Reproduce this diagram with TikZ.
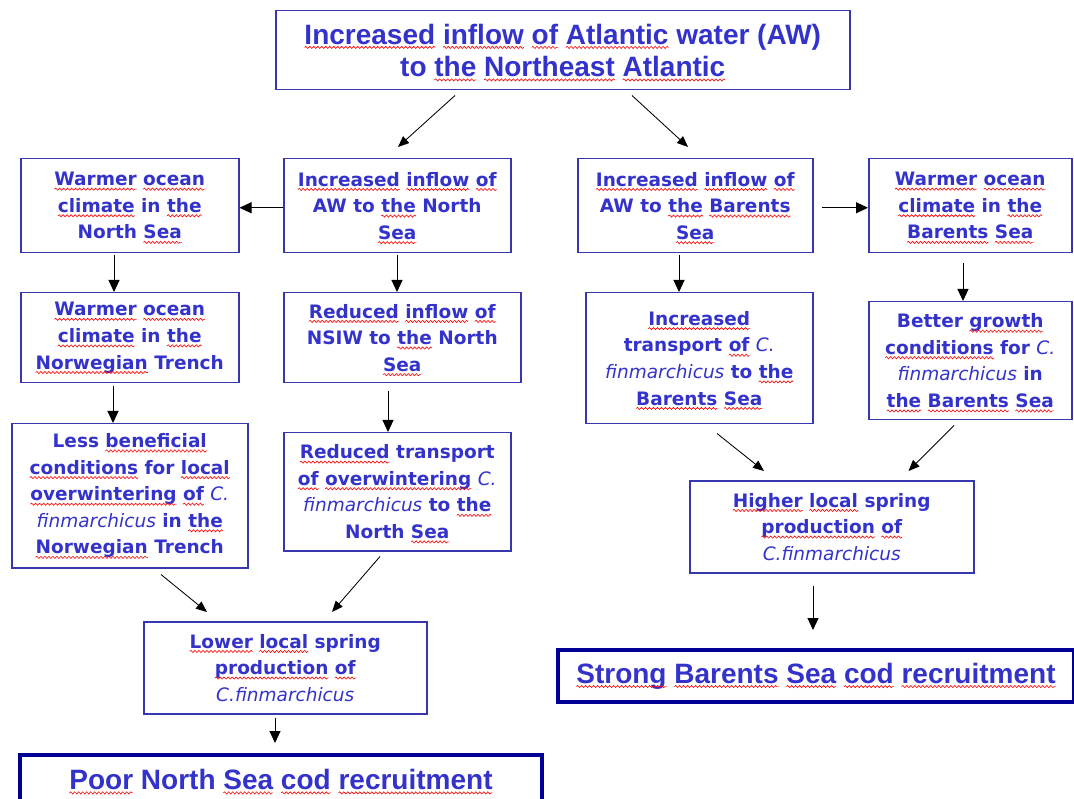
\documentclass[tikz,border=0pt]{standalone}
\usepackage{fontspec}
\usepackage{xcolor}
\usetikzlibrary{arrows.meta,calc,decorations.pathmorphing}
\setmainfont{DejaVu Sans}
\newfontfamily\ttlfont{Liberation Sans}

\definecolor{txtblue}{RGB}{51,51,204}
\definecolor{edgeblue}{RGB}{55,55,175}
\definecolor{navy}{RGB}{0,0,150}

\tikzset{
  wvword/.style={draw=none, fill=none, inner sep=0pt, outer sep=0pt,
    minimum width=0pt, minimum height=0pt, anchor=base, align=left},
  wvline/.style={draw=red, line width=0.6pt, overlay, decorate,
    decoration={snake, amplitude=1.1pt, segment length=4pt}}
}
% word with a red wavy underline
\newcommand\wv[1]{\tikz[baseline=(w.base)]{\node[wvword] (w) {#1};
  \draw[wvline] ([yshift=-3.4pt]w.base west) -- ([yshift=-3.4pt]w.base east);}}
% species name in italic, normal weight
\newcommand\fm[1]{{\mdseries\itshape #1}}

\begin{document}
\begin{tikzpicture}[x=1pt,y=-1pt,
  box/.style={draw=edgeblue, line width=1.5pt, text=txtblue, inner sep=0pt,
    align=center, anchor=north west,
    font=\fontsize{18.5}{26.6}\selectfont\bfseries},
  headbox/.style={box, font=\ttlfont\fontsize{28}{32.5}\selectfont\bfseries},
  endbox/.style={headbox, draw=navy, line width=4pt},
  arr/.style={draw=black, line width=1pt, -{Triangle[length=12pt,width=11pt]}},
  darr/.style={draw=black, line width=0.85pt, -{Triangle[length=11pt,width=9pt]}}]

\clip (0,0) rectangle (1074,799);
\fill[white] (0,0) rectangle (1074,799);

% top cause
\node[headbox, minimum width=574pt, minimum height=79pt] (T) at (275,10)
  {\wv{Increased} \wv{inflow} \wv{of} \wv{Atlantic} water (AW)\\to \wv{the} \wv{Northeast} \wv{Atlantic}};

% North Sea branch
\node[box, minimum width=218pt, minimum height=94pt] (A) at (20,158)
  {\wv{Warmer} \wv{ocean}\\\wv{climate} in \wv{the}\\North \wv{Sea}};
\node[box, minimum width=227pt, minimum height=94pt] (B) at (283,158)
  {\wv{Increased} \wv{inflow} \wv{of}\\AW to \wv{the} North\\\wv{Sea}};
\node[box, minimum width=218pt, minimum height=90pt] (E) at (20,292)
  {\wv{Warmer} \wv{ocean}\\\wv{climate} in \wv{the}\\\wv{Norwegian} Trench};
\node[box, minimum width=237pt, minimum height=90pt] (F) at (283,292)
  {\wv{Reduced} \wv{inflow} \wv{of}\\NSIW to \wv{the} North\\\wv{Sea}};
\node[box, minimum width=236pt, minimum height=144pt] (I) at (11,423)
  {Less \wv{beneficial}\\\wv{conditions} for \wv{local}\\\wv{overwintering} \wv{of} \fm{C.}\\\fm{finmarchicus} in \wv{the}\\\wv{Norwegian} Trench};
\node[box, minimum width=227pt, minimum height=118pt] (J) at (283,432)
  {\wv{Reduced} transport\\\wv{of} \wv{overwintering} \fm{C.}\\\fm{finmarchicus} to \wv{the}\\North \wv{Sea}};
\node[box, minimum width=283pt, minimum height=92pt] (L) at (143,621)
  {\wv{Lower} \wv{local} spring\\\wv{production} \wv{of}\\\fm{C.finmarchicus}};
\node[endbox, minimum width=522pt, minimum height=49pt] (N) at (18,753)
  {\wv{Poor} North \wv{Sea} \wv{cod} \wv{recruitment}};

% Barents Sea branch
\node[box, minimum width=235pt, minimum height=94pt] (C) at (577,158)
  {\wv{Increased} \wv{inflow} \wv{of}\\AW to \wv{the} \wv{Barents}\\\wv{Sea}};
\node[box, minimum width=203pt, minimum height=94pt] (D) at (868,158)
  {\wv{Warmer} \wv{ocean}\\\wv{climate} in \wv{the}\\\wv{Barents} \wv{Sea}};
\node[box, minimum width=227pt, minimum height=131pt] (G) at (585,292)
  {\wv{Increased}\\transport \wv{of} \fm{C.}\\\fm{finmarchicus} to \wv{the}\\\wv{Barents} \wv{Sea}};
\node[box, minimum width=203pt, minimum height=118pt] (H) at (868,301)
  {Better \wv{growth}\\\wv{conditions} for \fm{C.}\\\fm{finmarchicus} in\\\wv{the} \wv{Barents} \wv{Sea}};
\node[box, minimum width=284pt, minimum height=92pt] (K) at (689,480)
  {\wv{Higher} \wv{local} spring\\\wv{production} \wv{of}\\\fm{C.finmarchicus}};
\node[endbox, minimum width=516pt, minimum height=52pt] (M) at (556,648)
  {\wv{Strong} \wv{Barents} \wv{Sea} \wv{cod} \wv{recruitment}};

% connectors
\draw[darr] ($(T.south west)+(180,5)$) -- ($(B.north west)+(115,-11)$);
\draw[darr] ($(T.south west)+(357,5)$) -- ($(C.north west)+(111,-11)$);
\draw[arr] ($(B.west)+(0,2)$) -- ($(A.east)+(0,2)$);
\draw[arr] ($(C.east)+(8,2)$) -- ($(D.west)+(0,2)$);
\draw[arr] ($(A.south west)+(94,2)$) -- ($(E.north west)+(94,0)$);
\draw[arr] ($(B.south west)+(114,2)$) -- ($(F.north west)+(114,0)$);
\draw[arr] ($(C.south west)+(102,2)$) -- ($(G.north west)+(94,0)$);
\draw[arr] ($(D.south west)+(95,10)$) -- ($(H.north west)+(95,0)$);
\draw[arr] ($(E.south west)+(93,3)$) -- ($(I.north west)+(102,0)$);
\draw[arr] ($(F.south west)+(105,8)$) -- ($(J.north west)+(105,0)$);
\draw[darr] ($(G.south west)+(132,9)$) -- ($(K.north west)+(75,-9)$);
\draw[darr] ($(H.south west)+(86,5)$) -- ($(K.north east)+(-66,-9)$);
\draw[darr] ($(I.south west)+(150,6)$) -- ($(L.north west)+(64,-9)$);
\draw[darr] ($(J.south west)+(97,5)$) -- ($(L.north west)+(189,-9)$);
\draw[arr] ($(L.south west)+(132,3)$) -- ($(N.north west)+(257,-10)$);
\draw[arr] ($(K.south west)+(124,12)$) -- ($(M.north west)+(257,-18)$);
\end{tikzpicture}
\end{document}
